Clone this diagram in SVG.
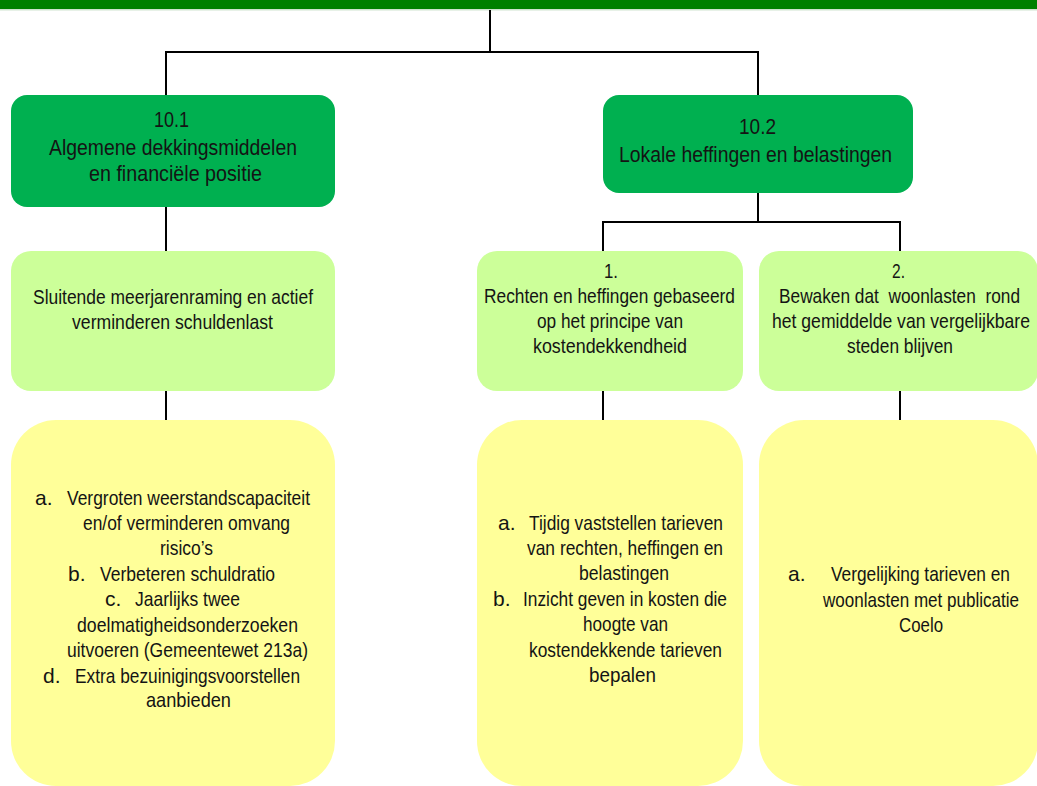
<svg xmlns="http://www.w3.org/2000/svg" width="1037" height="786" viewBox="0 0 1037 786">
<style>
text{font-family:"Liberation Sans",Arial,sans-serif;fill:#141414;font-size:21px}
.t1{font-size:22px}
.dk{fill:#00B050}
.lg{fill:#CCFF99}
.yl{fill:#FFFF99}
.ln{stroke:#000;stroke-width:2;fill:none}
</style>
<rect x="0" y="0" width="1037" height="9" fill="#008000"/>
<rect x="0" y="9" width="1037" height="1.5" fill="#cfe3cf"/>
<g id="connectors" class="ln">
<path d="M490 10V52M166 52H758M166 51V95M758 51V95"/>
<path d="M166 207V251M166 391V420"/>
<path d="M758 193V222M603 222H900M603 221V251M900 221V251"/>
<path d="M603 391V420M900 391V420"/>
</g>
<g id="n101">
<rect class="dk" x="11" y="95" width="324" height="112" rx="16"/>
<text class="t1" x="154" y="127" textLength="35" lengthAdjust="spacingAndGlyphs">10.1</text>
<text class="t1" x="49" y="154.5" textLength="248" lengthAdjust="spacingAndGlyphs">Algemene dekkingsmiddelen</text>
<text class="t1" x="89" y="181" textLength="173" lengthAdjust="spacingAndGlyphs">en financiële positie</text>
</g>
<g id="n102">
<rect class="dk" x="603" y="95" width="310" height="98" rx="16"/>
<text class="t1" x="739" y="134" textLength="37" lengthAdjust="spacingAndGlyphs">10.2</text>
<text class="t1" x="619" y="161.5" textLength="273" lengthAdjust="spacingAndGlyphs">Lokale heffingen en belastingen</text>
</g>
<g id="g1">
<rect class="lg" x="11" y="251" width="324" height="140" rx="20"/>
<text x="33" y="304" textLength="280" lengthAdjust="spacingAndGlyphs">Sluitende meerjarenraming en actief</text>
<text x="72" y="328.5" textLength="201" lengthAdjust="spacingAndGlyphs">verminderen schuldenlast</text>
</g>
<g id="g2">
<rect class="lg" x="477" y="251" width="266" height="140" rx="20"/>
<text x="604" y="277.5" textLength="14" lengthAdjust="spacingAndGlyphs">1.</text>
<text x="484" y="302.5" textLength="251" lengthAdjust="spacingAndGlyphs">Rechten en heffingen gebaseerd</text>
<text x="537" y="327.5" textLength="146" lengthAdjust="spacingAndGlyphs">op het principe van</text>
<text x="533" y="352.5" textLength="154" lengthAdjust="spacingAndGlyphs">kostendekkendheid</text>
</g>
<g id="g3">
<rect class="lg" x="759" y="251" width="279" height="140" rx="20"/>
<text x="892" y="277.5" textLength="13" lengthAdjust="spacingAndGlyphs">2.</text>
<text x="779" y="302.5" textLength="241" lengthAdjust="spacingAndGlyphs" xml:space="preserve">Bewaken dat  woonlasten  rond</text>
<text x="772" y="327.5" textLength="258" lengthAdjust="spacingAndGlyphs">het gemiddelde van vergelijkbare</text>
<text x="847" y="352.5" textLength="106" lengthAdjust="spacingAndGlyphs">steden blijven</text>
</g>
<g id="y1">
<rect class="yl" x="11" y="420" width="324" height="366" rx="45"/>
<text x="35" y="505">a.</text>
<text x="67" y="505" textLength="243" lengthAdjust="spacingAndGlyphs">Vergroten weerstandscapaciteit</text>
<text x="83" y="530" textLength="207" lengthAdjust="spacingAndGlyphs">en/of verminderen omvang</text>
<text x="160" y="554.5" textLength="53" lengthAdjust="spacingAndGlyphs">risico’s</text>
<text x="68" y="580.5">b.</text>
<text x="100" y="580.5" textLength="175" lengthAdjust="spacingAndGlyphs">Verbeteren schuldratio</text>
<text x="105" y="606">c.</text>
<text x="135" y="606" textLength="105" lengthAdjust="spacingAndGlyphs">Jaarlijks twee</text>
<text x="77" y="631.5" textLength="221" lengthAdjust="spacingAndGlyphs">doelmatigheidsonderzoeken</text>
<text x="67" y="656.5" textLength="241" lengthAdjust="spacingAndGlyphs">uitvoeren (Gemeentewet 213a)</text>
<text x="43" y="682.5">d.</text>
<text x="75" y="682.5" textLength="225" lengthAdjust="spacingAndGlyphs">Extra bezuinigingsvoorstellen</text>
<text x="146" y="706.5" textLength="85" lengthAdjust="spacingAndGlyphs">aanbieden</text>
</g>
<g id="y2">
<rect class="yl" x="477" y="420" width="266" height="366" rx="45"/>
<text x="498" y="529.5">a.</text>
<text x="529" y="529.5" textLength="194" lengthAdjust="spacingAndGlyphs">Tijdig vaststellen tarieven</text>
<text x="527" y="555" textLength="196" lengthAdjust="spacingAndGlyphs">van rechten, heffingen en</text>
<text x="579" y="580" textLength="90" lengthAdjust="spacingAndGlyphs">belastingen</text>
<text x="493" y="606">b.</text>
<text x="523" y="606" textLength="204" lengthAdjust="spacingAndGlyphs">Inzicht geven in kosten die</text>
<text x="583" y="631" textLength="85" lengthAdjust="spacingAndGlyphs">hoogte van</text>
<text x="529" y="656.5" textLength="193" lengthAdjust="spacingAndGlyphs">kostendekkende tarieven</text>
<text x="589" y="681.5" textLength="67" lengthAdjust="spacingAndGlyphs">bepalen</text>
</g>
<g id="y3">
<rect class="yl" x="759" y="420" width="279" height="366" rx="45"/>
<text x="788" y="581">a.</text>
<text x="831" y="581" textLength="179" lengthAdjust="spacingAndGlyphs">Vergelijking tarieven en</text>
<text x="823" y="606.5" textLength="196" lengthAdjust="spacingAndGlyphs">woonlasten met publicatie</text>
<text x="899" y="631.5" textLength="44" lengthAdjust="spacingAndGlyphs">Coelo</text>
</g>
</svg>
